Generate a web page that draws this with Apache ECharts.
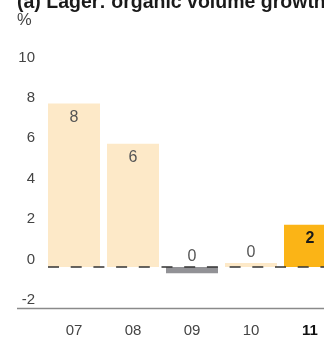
<!DOCTYPE html>
<html>
<head>
<meta charset="utf-8">
<script src="https://cdn.jsdelivr.net/npm/echarts@6/dist/echarts.min.js"></script>
<style>html,body{margin:0;padding:0;background:#fff;}#c{width:324px;height:337px;}</style>
</head>
<body>
<div id="c"></div>
<script>
const categories = ['07', '08', '09', '10', '11'];
const values = [8.1, 6.1, -0.3, 0.2, 2.1];
const valueLabels = ['8', '6', '0', '0', '2'];
const yTicks = [-2, 0, 2, 4, 6, 8, 10];

const light = '#FDE9C8', grey = '#929296', gold = '#FBB416';
const colors = [light, light, grey, light, gold];

const chart = echarts.init(document.getElementById('c'), null, {renderer: 'canvas'});
const font = '"Liberation Sans", Arial, Helvetica, sans-serif';

const data = values.map((v, i) => {
  const inside = Math.abs(v) >= 1;
  return {
    value: v,
    itemStyle: {color: colors[i]},
    label: {
      show: true,
      position: inside ? 'insideTop' : 'top',
      distance: inside ? 6 : 2,
      formatter: () => valueLabels[i],
      fontFamily: font,
      fontSize: 16,
      fontWeight: i === 4 ? 'bold' : 'normal',
      color: i === 4 ? '#1a1a1a' : '#555'
    }
  };
});

chart.setOption({
  animation: false,
  title: [
    {text: '(a) Lager: organic volume growth', left: 17, top: -7.5, padding: 0,
     textStyle: {fontFamily: font, fontSize: 19.5, fontWeight: 'bold', color: '#1a1a1a'}},
    {text: '%', left: 17, top: 11.5, padding: 0,
     textStyle: {fontFamily: font, fontSize: 16.5, fontWeight: 'normal', color: '#444'}}
  ],
  grid: {left: 44.5, width: 295, top: 65, bottom: 29.5, containLabel: false, outerBoundsMode: 'none'},
  xAxis: {
    type: 'category',
    data: categories,
    axisLine: {show: false},
    axisTick: {show: false},
    axisLabel: {
      margin: 15.5,
      fontFamily: font,
      fontSize: 15,
      color: '#444',
      formatter: (v, i) => i === 4 ? '{b|' + v + '}' : v,
      rich: {b: {fontFamily: font, fontSize: 15, fontWeight: 'bold', color: '#111'}}
    }
  },
  yAxis: {
    type: 'value',
    min: yTicks[0],
    max: yTicks[yTicks.length - 1],
    interval: 2,
    splitLine: {show: false},
    axisLine: {show: false},
    axisTick: {show: false},
    axisLabel: {
      margin: 9.5,
      verticalAlign: 'bottom',
      padding: [0, 0, 0, 0],
      fontFamily: font,
      fontSize: 15,
      color: '#444'
    }
  },
  series: [{
    type: 'bar',
    data: data,
    barWidth: 52,
    markLine: {
      silent: true,
      symbol: 'none',
      label: {show: false},
      lineStyle: {color: '#333', width: 1.5, type: [11, 11.7], dashOffset: 19.2},
      data: [{yAxis: 0}]
    }
  }]
});

const yBottom = chart.convertToPixel({yAxisIndex: 0}, yTicks[0]);
chart.setOption({
  graphic: [{
    type: 'line',
    shape: {x1: 17, y1: yBottom + 1, x2: 324, y2: yBottom + 1},
    style: {stroke: '#8a8a8a', lineWidth: 1.5}
  }]
});
</script>
</body>
</html>
